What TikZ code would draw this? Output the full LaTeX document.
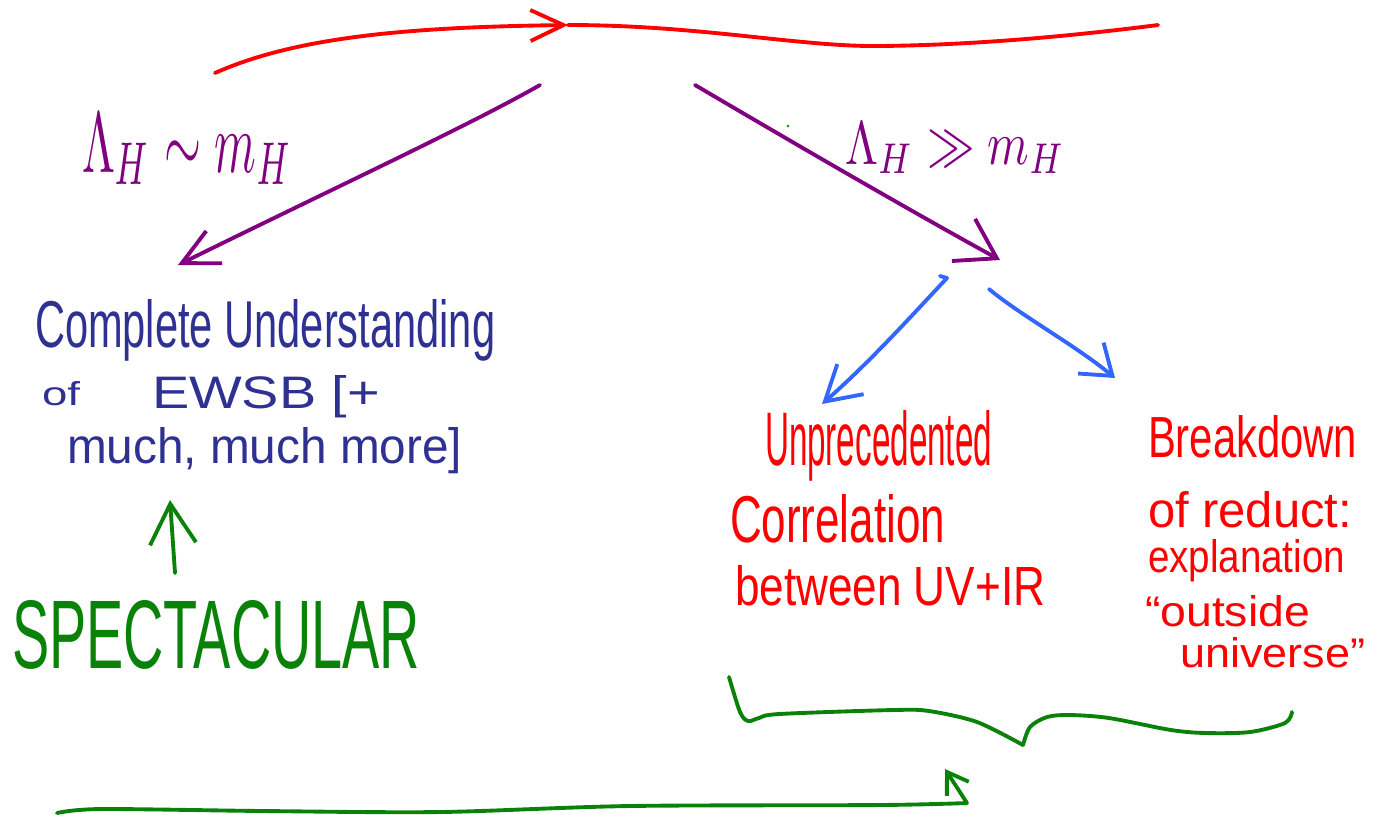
\documentclass[tikz,border=0pt]{standalone}
\usepackage{fontspec}
\setmainfont{Liberation Sans}
\usepackage{graphicx}
\usetikzlibrary{arrows.meta}
\definecolor{penred}{HTML}{FF0000}
\definecolor{penpurple}{HTML}{800080}
\definecolor{pennavy}{HTML}{2E3192}
\definecolor{pengreen}{HTML}{0A820A}
\definecolor{penblue}{HTML}{3366FF}
\tikzset{
	pen/.style={line width=1.1pt, line cap=round, line join=round},
	scrawl/.style={anchor=base west, inner sep=0pt, outer sep=0pt},
}
% fit a line of text to a width and height (mm)
\newcommand{\fitto}[3]{\resizebox{#1mm}{#2mm}{#3}}
\begin{document}
\begin{tikzpicture}[x=0.01cm, y=-0.01cm]
	\useasboundingbox (0,0) rectangle (1380,814);
	% ends of the strokes
	\coordinate (redstart) at (215,73);
	\coordinate (redtip) at (568,25);
	\coordinate (redend) at (1158,25);
	\coordinate (leftfrom) at (540,85);
	\coordinate (lefttip) at (178,265);
	\coordinate (rightfrom) at (695,85);
	\coordinate (righttip) at (1000,260);
	\coordinate (bluefromA) at (947,278);
	\coordinate (bluetipA) at (822,404);
	\coordinate (bluefromB) at (989,289);
	\coordinate (bluetipB) at (1115,378);
	\coordinate (upfrom) at (175,573);
	\coordinate (uptip) at (170,500);
	\coordinate (bracetip) at (1023,745);
	\coordinate (lowfrom) at (57,813);
	\coordinate (lowtip) at (945,769);
	% texts
	\path
	(82,172) node[scrawl, text=penpurple] (lamsim) {\fitto{21}{5.9}{$\Lambda_H\sim m_H$}}
	(845,164) node[scrawl, text=penpurple] (lamgg) {\fitto{22}{4.2}{$\Lambda_H\gg m_H$}}
	(35,347) node[scrawl, text=pennavy] (cuA) {\fitto{46}{4.8}{Complete Understanding}}
	(42,405) node[scrawl, text=pennavy] (cuB) {\fitto{3.8}{2.4}{of}}
	(152,408) node[scrawl, text=pennavy] (cuC) {\fitto{22.8}{3.3}{EWSB [+}}
	(67,463) node[scrawl, text=pennavy] (cuD) {\fitto{39.5}{3.6}{much, much more]}}
	(12,668) node[scrawl, text=pengreen] (spec) {\fitto{40.8}{6.8}{SPECTACULAR}}
	(765,465) node[scrawl, text=penred] (urA) {\fitto{22.7}{5.5}{Unprecedented}}
	(730,542) node[scrawl, text=penred] (urB) {\fitto{21.5}{4.8}{Correlation}}
	(735,605) node[scrawl, text=penred] (urC) {\fitto{31}{4}{between UV+IR}}
	(1148,457) node[scrawl, text=penred] (brA) {\fitto{20.9}{4.2}{Breakdown}}
	(1148,527) node[scrawl, text=penred] (brB) {\fitto{20.4}{3.6}{of reduct:}}
	(1148,572) node[scrawl, text=penred] (brC) {\fitto{19.7}{3.3}{explanation}}
	(1145,626) node[scrawl, text=penred] (brD) {\fitto{16.5}{3.1}{“outside}}
	(1180,667) node[scrawl, text=penred] (brE) {\fitto{18.5}{3.0}{universe”}}
	;
	% red line on top
	\draw[pen, penred, -{Straight Barb[length=3.3mm,width=3.1mm]}]
	(redstart) .. controls (300,35) and (420,27) .. (redtip);
	\draw[pen, penred] (redtip) .. controls (700,25) and (800,47) .. (880,46)
	.. controls (980,45) and (1080,35) .. (redend);
	% the two branches
	\draw[pen, penpurple, -{Straight Barb[length=3.6mm,width=3.6mm]}]
	(leftfrom) .. controls (470,125) and (330,190) .. (lefttip);
	\draw[pen, penpurple, -{Straight Barb[length=3.8mm,width=4.8mm]}]
	(rightfrom) .. controls (780,135) and (900,205) .. (righttip);
	\fill[pengreen] (788,126) circle (1.3);
	% blue split
	\draw[pen, penblue, -{Straight Barb[length=3.4mm,width=4mm]}]
	(940,276) -- (bluefromA) .. controls (915,312) and (870,362) .. (bluetipA);
	\draw[pen, penblue, -{Straight Barb[length=2.8mm,width=4mm]}]
	(bluefromB) .. controls (1020,315) and (1075,345) .. (bluetipB);
	% green arrows and brace
	\draw[pen, pengreen, -{Straight Barb[length=4mm,width=4.6mm]}] (upfrom) -- (uptip);
	\draw[pen, pengreen] plot[smooth] coordinates
	{(729,677) (740,712) (748,721) (759,718) (779,714) (893,710) (929,711) (977,722) (bracetip)};
	\draw[pen, pengreen] plot[smooth] coordinates
	{(bracetip) (1030,727) (1047,717) (1070,715) (1109,718) (1171,730) (1206,733) (1250,732) (1285,723) (1292,712)};
	\draw[pen, pengreen, -{Straight Barb[length=2mm,width=2.6mm]}]
	plot[smooth] coordinates {(lowfrom) (101,809) (264,811) (440,812) (629,806) (880,805) (967,803)}
	-- (lowtip);
\end{tikzpicture}
\end{document}
